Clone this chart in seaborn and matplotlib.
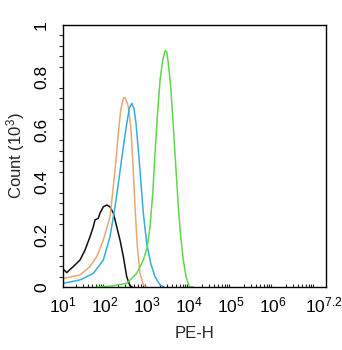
import numpy as np
import pandas as pd
import matplotlib
matplotlib.use("Agg")
import matplotlib.pyplot as plt
import seaborn as sns
from matplotlib.ticker import FixedLocator, FixedFormatter, MultipleLocator, LogLocator, NullFormatter

# ---- data (log10 of PE-H intensity, count in 10^3) ----
black_logx = [1.007, 1.088, 1.245, 1.405, 1.524, 1.643, 1.721, 1.762, 1.840, 1.881, 1.960,
              2.040, 2.119, 2.198, 2.279, 2.357, 2.436, 2.517, 2.595, 2.65]
black_y = [0.068, 0.055, 0.078, 0.103, 0.141, 0.192, 0.230, 0.256, 0.262, 0.282, 0.306,
           0.313, 0.306, 0.282, 0.230, 0.179, 0.116, 0.039, 0.004, 0.0]

orange_logx = [1.007, 1.405, 1.643, 1.802, 1.960, 2.119, 2.198, 2.262, 2.317, 2.374, 2.436,
               2.476, 2.517, 2.555, 2.612, 2.660, 2.714, 2.769, 2.833, 2.912, 3.0]
orange_y = [0.033, 0.046, 0.078, 0.116, 0.179, 0.268, 0.383, 0.485, 0.587, 0.676, 0.720,
            0.724, 0.707, 0.688, 0.612, 0.485, 0.306, 0.154, 0.052, 0.008, 0.0]

blue_logx = [1.007, 1.405, 1.721, 1.960, 2.119, 2.238, 2.340, 2.436, 2.517, 2.579, 2.636,
             2.690, 2.738, 2.793, 2.850, 2.912, 2.993, 3.088, 3.190, 3.310, 3.4]
blue_y = [0.014, 0.027, 0.052, 0.103, 0.192, 0.306, 0.421, 0.535, 0.624, 0.682, 0.701,
          0.682, 0.624, 0.523, 0.408, 0.281, 0.167, 0.090, 0.039, 0.008, 0.0]

green_logx = [1.8, 2.119, 2.517, 2.755, 2.912, 3.007, 3.071, 3.136, 3.190, 3.245, 3.310,
              3.374, 3.429, 3.469, 3.507, 3.564, 3.626, 3.690, 3.745, 3.802, 3.864,
              3.929, 4.007, 4.1]
green_y = [0.0, 0.003, 0.014, 0.052, 0.103, 0.154, 0.230, 0.357, 0.510, 0.650, 0.790,
           0.866, 0.902, 0.898, 0.854, 0.765, 0.612, 0.447, 0.306, 0.192, 0.103,
           0.039, 0.001, 0.0]

x_tick_exps = [1, 2, 3, 4, 5, 6, 7.2]
x_tick_labels = [r"$10^{1}$", r"$10^{2}$", r"$10^{3}$", r"$10^{4}$", r"$10^{5}$", r"$10^{6}$", r"$10^{7.2}$"]
y_ticks = [0, 0.2, 0.4, 0.6, 0.8, 1.0]
y_tick_labels = ["0", "0.2", "0.4", "0.6", "0.8", "1"]

series = [
    (black_logx, black_y, "#111111"),
    (orange_logx, orange_y, "#E8A878"),
    (blue_logx, blue_y, "#35AEDC"),
    (green_logx, green_y, "#5FD84A"),
]

sns.set_style("white")
plt.rcParams["font.family"] = ["Liberation Sans", "DejaVu Sans"]
plt.rcParams["mathtext.fontset"] = "custom"
plt.rcParams["mathtext.rm"] = "Liberation Sans"
plt.rcParams["mathtext.it"] = "Liberation Sans"

fig = plt.figure(figsize=(3.42, 3.5), dpi=100)
ax = fig.add_axes([63/342, 63/350, (326-63)/342, (287-25)/350])

for lx, yy, col in series:
    df = pd.DataFrame({"PE-H": 10 ** np.array(lx), "Count": yy})
    sns.lineplot(data=df, x="PE-H", y="Count", color=col, linewidth=1.1, ax=ax)

ax.set_xscale("log")
ax.set_xlim(10 ** 1, 10 ** 7.26)
ax.set_ylim(0, 1)

ax.xaxis.set_major_locator(FixedLocator([10 ** e for e in x_tick_exps]))
ax.xaxis.set_major_formatter(FixedFormatter(x_tick_labels))
ax.xaxis.set_minor_locator(LogLocator(base=10, subs=np.arange(2, 10), numticks=20))
ax.xaxis.set_minor_formatter(NullFormatter())

ax.yaxis.set_major_locator(FixedLocator(y_ticks))
ax.yaxis.set_major_formatter(FixedFormatter(y_tick_labels))
ax.yaxis.set_minor_locator(MultipleLocator(0.04))

for s in ax.spines.values():
    s.set_visible(True)
    s.set_color("black")
    s.set_linewidth(1.0)

ax.tick_params(axis="x", which="major", direction="out", length=4, width=1, labelsize=12.5, pad=2, colors="black")
ax.tick_params(axis="x", which="minor", direction="in", length=2.5, width=0.8, bottom=True)
ax.tick_params(axis="y", which="major", direction="out", length=5, width=1, labelsize=12.5, pad=5, colors="black")
ax.tick_params(axis="y", which="minor", direction="out", length=3, width=0.8, left=True)
for lbl in ax.get_yticklabels():
    lbl.set_rotation(90)
    lbl.set_va("center")

ax.set_xlabel("PE-H", fontsize=12, labelpad=8)
ax.set_ylabel(r"Count ($10^3$)", fontsize=12, labelpad=5)
ax.grid(False)

fig.savefig("out.png", dpi=100)
